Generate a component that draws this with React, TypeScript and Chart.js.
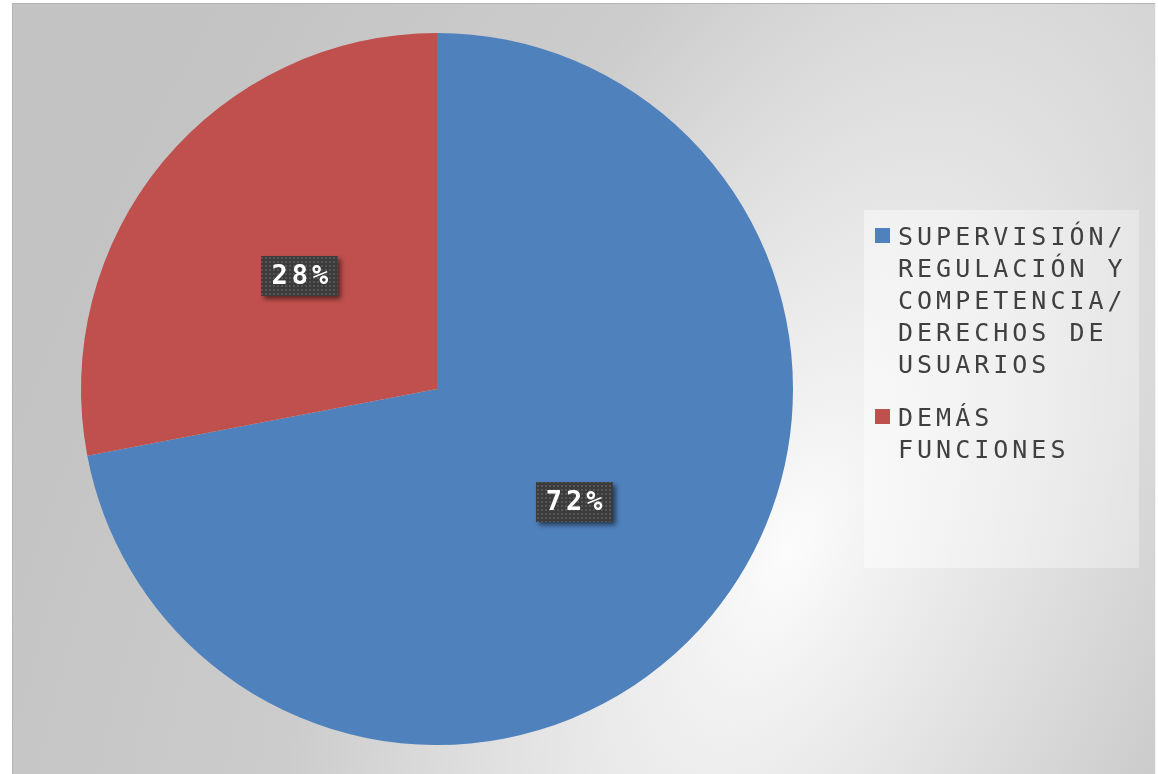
import React, { useEffect, useRef } from "react";
import { Chart, registerables } from "chart.js";

Chart.register(...registerables);

const categories: string[] = [
  "SUPERVISIÓN/REGULACIÓN Y COMPETENCIA/DERECHOS DE USUARIOS",
  "DEMÁS FUNCIONES",
];
const values: number[] = [72, 28];
const valueLabels: string[] = ["72%", "28%"];
const colors: string[] = ["#4F81BD", "#C0504D"];

const W = 1158;
const H = 774;
const MONO = '"DejaVu Sans Mono", "Liberation Mono", monospace';

function wrapLabel(ctx: CanvasRenderingContext2D, label: string, maxW: number): string[] {
  const tokens = label.match(/[^\s\/]+\/?/g) || [label];
  const lines: string[] = [];
  let cur = "";
  let prevSlash = false;
  for (const t of tokens) {
    const cand = cur === "" ? t : cur + (prevSlash ? "" : " ") + t;
    if (cur !== "" && ctx.measureText(cand).width > maxW) {
      lines.push(cur);
      cur = t;
    } else {
      cur = cand;
    }
    prevSlash = t.endsWith("/");
  }
  if (cur) lines.push(cur);
  return lines;
}

const backgroundPlugin = {
  id: "bgPlugin",
  beforeDraw(chart: any) {
    const ctx: CanvasRenderingContext2D = chart.ctx;
    ctx.save();
    ctx.fillStyle = "#ffffff";
    ctx.fillRect(0, 0, W, H);
    const x0 = 12, y0 = 3, x1 = 1156, y1 = H;
    ctx.save();
    ctx.beginPath();
    ctx.rect(x0, y0, x1 - x0, y1 - y0);
    ctx.clip();
    ctx.translate(790, 550);
    ctx.rotate((-65 * Math.PI) / 180);
    ctx.scale(2, 1);
    const g = ctx.createRadialGradient(0, 0, 0, 0, 0, 760);
    g.addColorStop(0, "#fcfcfc");
    g.addColorStop(0.1, "#f2f2f2");
    g.addColorStop(0.35, "#dddddd");
    g.addColorStop(0.55, "#cccccc");
    g.addColorStop(1, "#c3c3c3");
    ctx.fillStyle = g;
    ctx.fillRect(-2000, -2000, 4000, 4000);
    ctx.restore();
    ctx.strokeStyle = "#b4b4b4";
    ctx.lineWidth = 1;
    ctx.beginPath();
    ctx.moveTo(x0 + 0.5, y1);
    ctx.lineTo(x0 + 0.5, y0 + 0.5);
    ctx.lineTo(x1, y0 + 0.5);
    ctx.stroke();
    ctx.strokeStyle = "#f4f4f4";
    ctx.beginPath();
    ctx.moveTo(x1 - 0.5, y0);
    ctx.lineTo(x1 - 0.5, y1);
    ctx.stroke();
    ctx.restore();
  },
};

function makePattern(ctx: CanvasRenderingContext2D): CanvasPattern | string {
  const c = document.createElement("canvas");
  c.width = 4;
  c.height = 4;
  const p = c.getContext("2d");
  if (!p) return "#3c3c3c";
  p.fillStyle = "#3b3b3b";
  p.fillRect(0, 0, 4, 4);
  p.fillStyle = "#565656";
  p.fillRect(1, 1, 2, 2);
  return ctx.createPattern(c, "repeat") || "#3c3c3c";
}

const dataLabelPlugin = {
  id: "boxLabels",
  afterDatasetsDraw(chart: any) {
    const ctx: CanvasRenderingContext2D = chart.ctx;
    const meta = chart.getDatasetMeta(0);
    const pattern = makePattern(ctx);
    meta.data.forEach((arc: any, i: number) => {
      const pos = arc.tooltipPosition();
      const text = valueLabels[i];
      ctx.save();
      ctx.font = "bold 27px " + MONO;
      (ctx as any).letterSpacing = "4px";
      const tw = ctx.measureText(text).width - 4;
      const bw = tw + 20;
      const bh = 40;
      const bx = Math.round(pos.x - bw / 2);
      const by = Math.round(pos.y - bh / 2);
      ctx.shadowColor = "rgba(0,0,0,0.55)";
      ctx.shadowBlur = 5;
      ctx.shadowOffsetX = 3;
      ctx.shadowOffsetY = 3;
      ctx.fillStyle = pattern;
      ctx.fillRect(bx, by, bw, bh);
      ctx.shadowColor = "transparent";
      ctx.fillStyle = "#ffffff";
      ctx.textAlign = "left";
      ctx.textBaseline = "middle";
      ctx.fillText(text, pos.x - tw / 2, pos.y + 1);
      ctx.restore();
    });
  },
};

const legendPlugin = {
  id: "sideLegend",
  afterDraw(chart: any) {
    const ctx: CanvasRenderingContext2D = chart.ctx;
    ctx.save();
    const px = 864, py = 210, pw = 275, ph = 358;
    const lg = ctx.createLinearGradient(px, 0, px + pw, 0);
    lg.addColorStop(0, "rgba(255,255,255,0.45)");
    lg.addColorStop(1, "rgba(255,255,255,0.3)");
    ctx.fillStyle = lg;
    ctx.fillRect(px, py, pw, ph);

    ctx.font = "25px " + MONO;
    (ctx as any).letterSpacing = "4px";
    ctx.textBaseline = "alphabetic";
    ctx.textAlign = "left";
    const lineH = 32;
    let baseline = 245;
    const labels: string[] = chart.data.labels;
    labels.forEach((lab: string, i: number) => {
      const lines = wrapLabel(ctx, lab, 240);
      ctx.fillStyle = colors[i];
      ctx.fillRect(875, baseline - 17, 15, 15);
      ctx.fillStyle = "#404040";
      lines.forEach((ln, j) => {
        ctx.fillText(ln, 898, baseline + j * lineH);
      });
      baseline += lines.length * lineH + 21;
    });
    ctx.restore();
  },
};

export default function App() {
  const ref = useRef<HTMLCanvasElement | null>(null);
  useEffect(() => {
    if (!ref.current) return;
    const chart = new Chart(ref.current, {
      type: "pie",
      data: {
        labels: categories,
        datasets: [
          {
            data: values,
            backgroundColor: colors,
            borderWidth: 0,
          },
        ],
      },
      options: {
        responsive: false,
        animation: false,
        devicePixelRatio: 1,
        layout: { padding: { left: 81, right: W - 793, top: 33, bottom: H - 745 } },
        plugins: {
          legend: { display: false },
          tooltip: { enabled: false },
        },
      },
      plugins: [backgroundPlugin, dataLabelPlugin, legendPlugin],
    });
    return () => chart.destroy();
  }, []);
  return (
    <div style={{ position: "absolute", left: 0, top: 0, width: W, height: H }}>
      <canvas ref={ref} width={W} height={H} style={{ display: "block" }} />
    </div>
  );
}
